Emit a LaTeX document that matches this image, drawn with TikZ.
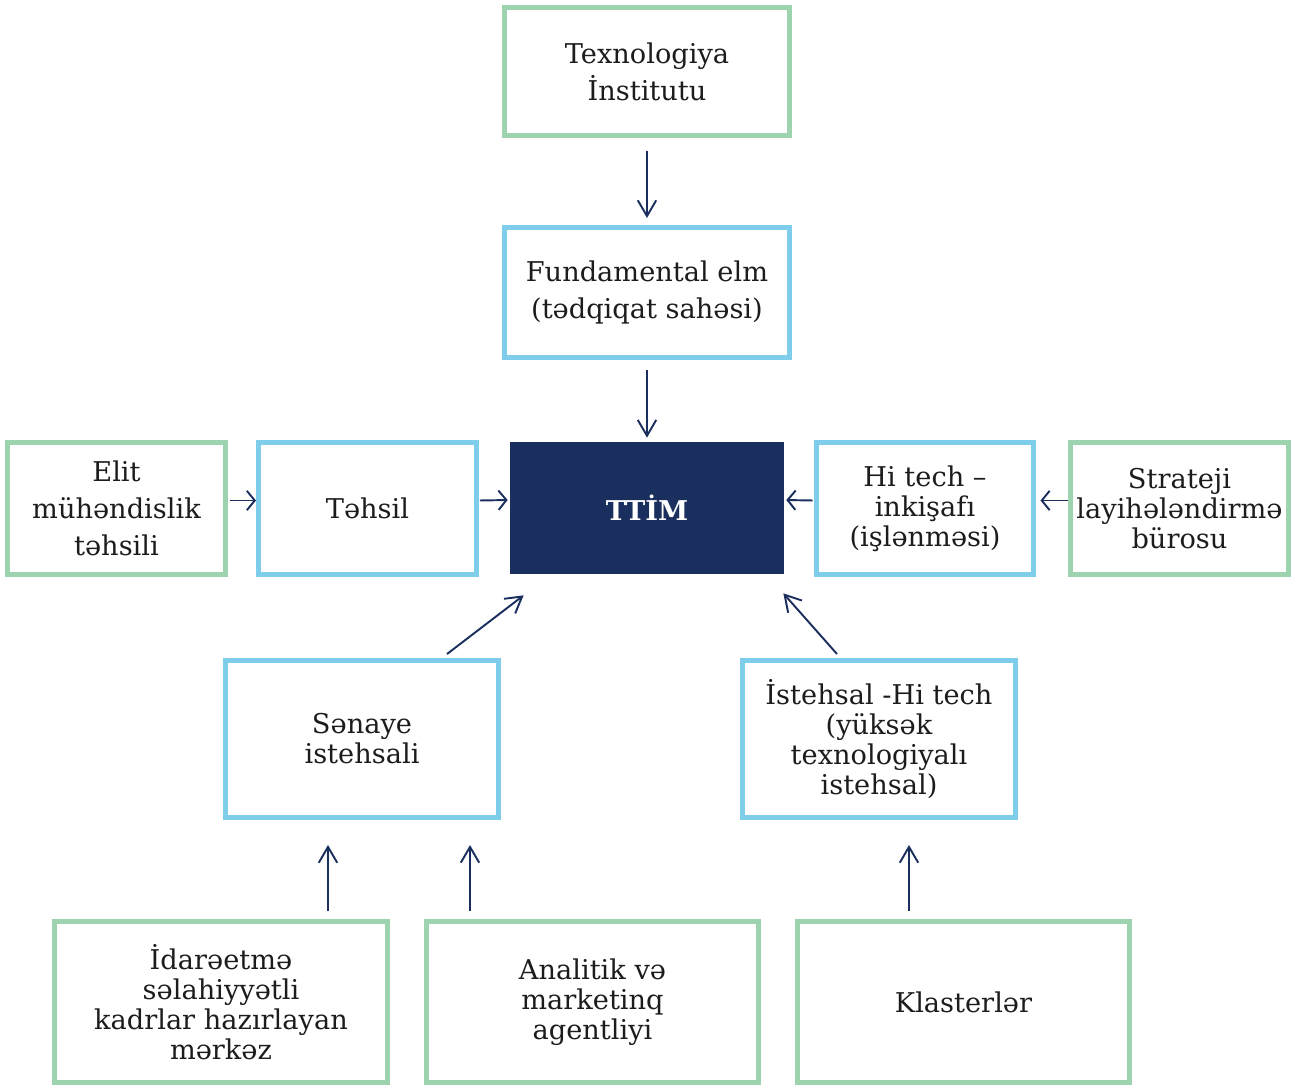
\documentclass[tikz,border=0pt]{standalone}
\usepackage{fontspec}
\setmainfont{DejaVu Serif}
\usetikzlibrary{arrows.meta,calc}

\definecolor{boxgreen}{HTML}{9DD4AF}
\definecolor{boxblue}{HTML}{7ECDEA}
\definecolor{navy}{HTML}{1B2F5E}
\definecolor{ink}{HTML}{1E1B1C}

\tikzset{
	box/.style={draw, line width=0.1cm, inner sep=0pt, align=center, text=ink,
		font=\fontsize{15.5}{17}\selectfont, minimum width=4.36cm, minimum height=2.64cm},
	greenbox/.style={box, draw=boxgreen},
	bluebox/.style={box, draw=boxblue},
	tall/.style={font=\fontsize{15.5}{21}\selectfont},
	varr/.style={navy, line width=1.1pt, -{Straight Barb[length=9pt,width=10.5pt,line width=1.1pt]}},
	harr/.style={navy, line width=1.1pt, -{Straight Barb[length=4.5pt,width=11pt,line width=1.1pt]}}
}

\begin{document}
\begin{tikzpicture}[x=0.02cm,y=-0.02cm]
	\useasboundingbox (0,0) rectangle (1303,1085);
	\node[greenbox, tall, minimum width=5.7cm, minimum height=2.56cm] (inst) at (647,71.5) {Texnologiya\\İnstitutu};
	\node[bluebox, tall, minimum width=5.7cm, minimum height=2.6cm] (fund) at (647,292.5) {Fundamental elm\\(tədqiqat sahəsi)};
	\node[fill=navy, text=white, inner sep=0pt, minimum width=5.48cm, minimum height=2.64cm,
		font=\fontsize{15.5}{17}\selectfont\bfseries] (ttim) at (647,508) {TTİM};
	\node[greenbox, tall] (elit) at (116.5,508.5) {Elit\\mühəndislik\\təhsili};
	\node[bluebox] (tehsil) at (367.5,508.5) {Təhsil};
	\node[bluebox] (hitech) at (925,508.5) {Hi tech –\\inkişafı\\(işlənməsi)};
	\node[greenbox] (strat) at (1179.5,508.5) {Strateji\\layihələndirmə\\bürosu};
	\node[bluebox, minimum width=5.46cm, minimum height=3.14cm] (senaye) at (362,739) {Sənaye\\istehsali};
	\node[bluebox, minimum width=5.46cm, minimum height=3.14cm] (istehsal) at (879,739) {İstehsal -Hi tech\\(yüksək\\texnologiyalı\\istehsal)};
	\node[greenbox, minimum width=6.66cm, minimum height=3.22cm] (idare) at (221,1002) {İdarəetmə\\səlahiyyətli\\kadrlar hazırlayan\\mərkəz};
	\node[greenbox, minimum width=6.66cm, minimum height=3.22cm] (analitik) at (592.5,1002) {Analitik və\\marketinq\\agentliyi};
	\node[greenbox, minimum width=6.66cm, minimum height=3.22cm] (klaster) at (963.5,1002) {Klasterlər};

	\draw[varr, shorten <=0.26cm, shorten >=0.14cm] (inst) -- (fund);
	\draw[varr, shorten <=0.2cm, shorten >=0.08cm] (fund) -- (ttim);
	\draw[harr, shorten <=0.04cm] ([yshift=0.16cm]elit.east) -- ([yshift=0.16cm]tehsil.west);
	\draw[harr, shorten <=0.02cm, shorten >=0.04cm] ([yshift=0.16cm]tehsil.east) -- ([yshift=0.16cm]ttim.west);
	\draw[harr, shorten <=0.02cm, shorten >=0.04cm] ([yshift=0.16cm]hitech.west) -- ([yshift=0.16cm]ttim.east);
	\draw[harr, shorten >=0.08cm] ([yshift=0.16cm]strat.west) -- ([yshift=0.16cm]hitech.east);
	\draw[varr] ($(senaye.north)+(85,-4)$) -- ($(ttim.south west)+(14,21)$);
	\draw[varr] ($(istehsal.north)+(-42,-4)$) -- ($(ttim.south east)+(-1,19)$);
	\draw[varr] ($(idare.north)+(107,-8)$) -- ($(senaye.south)+(-34,25)$);
	\draw[varr] ($(analitik.north)+(-122.5,-8)$) -- ($(senaye.south)+(108,25)$);
	\draw[varr] ($(klaster.north)+(-54.5,-8)$) -- ($(istehsal.south)+(30,25)$);
\end{tikzpicture}
\end{document}
